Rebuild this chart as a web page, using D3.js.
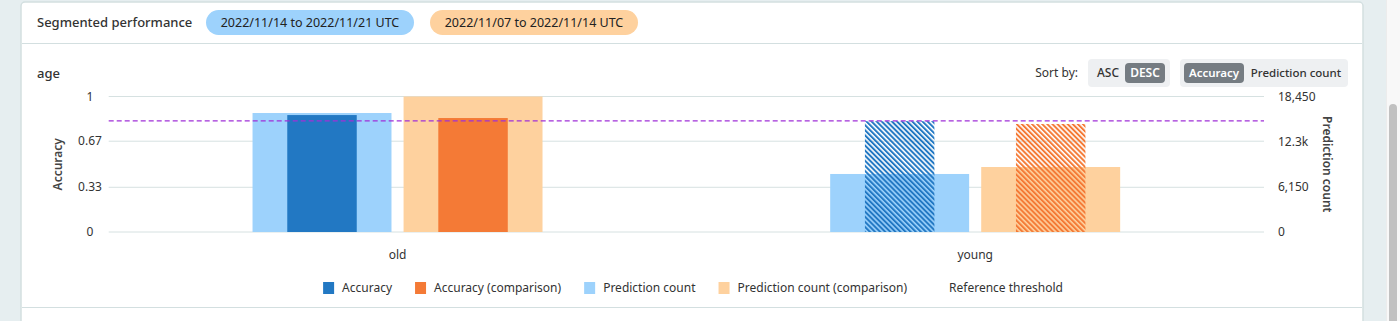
<!DOCTYPE html>
<html>
<head>
<meta charset="utf-8">
<script src="https://cdn.jsdelivr.net/npm/d3@7"></script>
<style>
  body { margin: 0; background: #e6eef0; overflow: hidden; }
  svg { display: block; font-family: "Noto Sans", "Open Sans", sans-serif; }
</style>
</head>
<body>
<div id="chart"></div>
<script>
// data
const categories = ["old", "young"];
const accuracy = [0.863, 0.818];
const accuracyComparison = [0.841, 0.797];
const predictionCount = [16200, 7900];
const predictionCountComparison = [18450, 8850];
const threshold = 0.82;

const accuracyTicks = [0, 0.33, 0.67, 1];
const countTicks = [0, 6150, 12300, 18450];
const countTickLabels = ["0", "6,150", "12.3k", "18,450"];

const periods = ["2022/11/14 to 2022/11/21 UTC", "2022/11/07 to 2022/11/14 UTC"];
const legendLabels = ["Accuracy", "Accuracy (comparison)", "Prediction count", "Prediction count (comparison)", "Reference threshold"];

const colors = {
  acc: "#2278c3",
  accCmp: "#f47a36",
  cnt: "#9dd2fc",
  cntCmp: "#fed19e",
  threshold: "#a030d8"
};
const legendColors = [colors.acc, colors.accCmp, colors.cnt, colors.cntCmp, "none"];

const W = 1400, H = 321;
const svg = d3.select("#chart").append("svg")
  .attr("width", W).attr("height", H);

// page background + card
svg.append("rect").attr("width", W).attr("height", H).attr("fill", "#e6eef0");
svg.append("rect")
  .attr("x", 21).attr("y", 2).attr("width", 1342).attr("height", 340)
  .attr("rx", 4)
  .attr("fill", "#fff").attr("stroke", "#d3dfe0").attr("stroke-width", 1.5);
svg.append("line").attr("x1", 22).attr("x2", 1362).attr("y1", 43.5).attr("y2", 43.5)
  .attr("stroke", "#d3dfe0");
svg.append("line").attr("x1", 22).attr("x2", 1362).attr("y1", 307.5).attr("y2", 307.5)
  .attr("stroke", "#d3dfe0");

// scrollbar
svg.append("rect").attr("x", 1386).attr("y", 0).attr("width", 14).attr("height", H).attr("fill", "#f8f8f8");
svg.append("line").attr("x1", 1386.5).attr("x2", 1386.5).attr("y1", 0).attr("y2", H).attr("stroke", "#ececec");
svg.append("rect").attr("x", 1389).attr("y", 104).attr("width", 8).attr("height", 260)
  .attr("rx", 4).attr("fill", "#c1c1c1");

// header
svg.append("text").attr("x", 37).attr("y", 27)
  .attr("font-size", 13).attr("font-weight", 500).attr("fill", "#333")
  .text("Segmented performance");

const pillColors = [colors.cnt, colors.cntCmp];
const pillX = [206, 430];
periods.forEach(function(p, i) {
  svg.append("rect").attr("x", pillX[i]).attr("y", 10).attr("width", 208).attr("height", 25)
    .attr("rx", 12.5).attr("fill", pillColors[i]);
  svg.append("text").attr("x", pillX[i] + 104).attr("y", 27)
    .attr("text-anchor", "middle").attr("font-size", 12.5).attr("fill", "#222")
    .text(p);
});

svg.append("text").attr("x", 37).attr("y", 78)
  .attr("font-size", 13).attr("font-weight", 500).attr("fill", "#333")
  .text("age");

// sort controls
svg.append("text").attr("x", 1078).attr("y", 77).attr("text-anchor", "end")
  .attr("font-size", 12).attr("fill", "#333").text("Sort by:");
svg.append("rect").attr("x", 1088).attr("y", 59).attr("width", 82).attr("height", 28)
  .attr("rx", 4).attr("fill", "#eef0f2");
svg.append("text").attr("x", 1108).attr("y", 77).attr("text-anchor", "middle")
  .attr("font-size", 12).attr("font-weight", 500).attr("fill", "#333").text("ASC");
svg.append("rect").attr("x", 1125).attr("y", 63).attr("width", 40).attr("height", 20)
  .attr("rx", 4).attr("fill", "#757c82");
svg.append("text").attr("x", 1145).attr("y", 77).attr("text-anchor", "middle")
  .attr("font-size", 12).attr("font-weight", 600).attr("fill", "#fff").text("DESC");

svg.append("rect").attr("x", 1180).attr("y", 59).attr("width", 168).attr("height", 28)
  .attr("rx", 4).attr("fill", "#eef0f2");
svg.append("rect").attr("x", 1184).attr("y", 63).attr("width", 60).attr("height", 20)
  .attr("rx", 4).attr("fill", "#757c82");
svg.append("text").attr("x", 1214).attr("y", 77).attr("text-anchor", "middle")
  .attr("font-size", 11.5).attr("font-weight", 600).attr("fill", "#fff").text("Accuracy");
svg.append("text").attr("x", 1296).attr("y", 77).attr("text-anchor", "middle")
  .attr("font-size", 11.5).attr("font-weight", 500).attr("fill", "#333").text("Prediction count");

// chart area
const plot = { left: 108.7, right: 1264, top: 96.5, bottom: 232 };

const x0 = d3.scaleBand().domain(categories).range([plot.left, plot.right]);
const groupWidth = x0.bandwidth() * 0.502;
const x1 = d3.scaleBand().domain(["current", "comparison"])
  .range([0, groupWidth]).paddingInner(0.08);

const yAcc = d3.scaleLinear().domain([0, 1]).range([plot.bottom, plot.top]);
const yCnt = d3.scaleLinear().domain([0, 18450]).range([plot.bottom, plot.top]);

// hatch patterns for bars under threshold
const defs = svg.append("defs");
[["hatch-acc", colors.acc], ["hatch-accCmp", colors.accCmp]].forEach(function(h) {
  const pat = defs.append("pattern")
    .attr("id", h[0]).attr("patternUnits", "userSpaceOnUse")
    .attr("width", 3.6).attr("height", 4)
    .attr("patternTransform", "rotate(-45)");
  pat.append("rect").attr("width", 2).attr("height", 4).attr("fill", h[1]);
});

// grid
svg.append("g").selectAll("line").data(accuracyTicks).join("line")
  .attr("x1", plot.left).attr("x2", plot.right)
  .attr("y1", function(d) { return yAcc(d); }).attr("y2", function(d) { return yAcc(d); })
  .attr("stroke", "#d6e1e1").attr("stroke-width", 1);

// left ticks (centered labels)
svg.append("g").selectAll("text").data(accuracyTicks).join("text")
  .attr("x", 90).attr("y", function(d) { return yAcc(d) + 4; })
  .attr("text-anchor", "middle").attr("font-size", 12).attr("fill", "#333")
  .text(function(d) { return d === 0 || d === 1 ? String(d) : d.toFixed(2); });

// right ticks
svg.append("g").selectAll("text").data(countTicks).join("text")
  .attr("x", 1278).attr("y", function(d) { return yCnt(d) + 4; })
  .attr("font-size", 12).attr("fill", "#333")
  .text(function(d, i) { return countTickLabels[i]; });

svg.append("text")
  .attr("transform", "translate(62," + ((plot.top + plot.bottom) / 2) + ") rotate(-90)")
  .attr("text-anchor", "middle").attr("font-size", 12).attr("font-weight", 600).attr("fill", "#444")
  .text("Accuracy");
svg.append("text")
  .attr("transform", "translate(1323," + ((plot.top + plot.bottom) / 2) + ") rotate(90)")
  .attr("text-anchor", "middle").attr("font-size", 12).attr("font-weight", 600).attr("fill", "#444")
  .text("Prediction count");

// bars
const rows = categories.map(function(c, i) {
  return {
    cat: c,
    bars: [
      { key: "current", count: predictionCount[i], acc: accuracy[i], cntColor: colors.cnt, accColor: colors.acc, hatch: "hatch-acc" },
      { key: "comparison", count: predictionCountComparison[i], acc: accuracyComparison[i], cntColor: colors.cntCmp, accColor: colors.accCmp, hatch: "hatch-accCmp" }
    ]
  };
});

const groups = svg.append("g").selectAll("g").data(rows).join("g")
  .attr("transform", function(d) {
    return "translate(" + (x0(d.cat) + (x0.bandwidth() - groupWidth) / 2) + ",0)";
  });

groups.selectAll("rect.cnt").data(function(d) { return d.bars; }).join("rect")
  .attr("class", "cnt")
  .attr("x", function(d) { return x1(d.key); })
  .attr("width", x1.bandwidth())
  .attr("y", function(d) { return yCnt(d.count); })
  .attr("height", function(d) { return plot.bottom - yCnt(d.count); })
  .attr("fill", function(d) { return d.cntColor; });

groups.selectAll("rect.acc").data(function(d) { return d.bars; }).join("rect")
  .attr("class", "acc")
  .attr("x", function(d) { return x1(d.key) + x1.bandwidth() / 4; })
  .attr("width", x1.bandwidth() / 2)
  .attr("y", function(d) { return yAcc(d.acc); })
  .attr("height", function(d) { return plot.bottom - yAcc(d.acc); })
  .attr("fill", function(d) { return d.acc < threshold ? "url(#" + d.hatch + ")" : d.accColor; });

// threshold line
svg.append("line")
  .attr("x1", plot.left).attr("x2", plot.right)
  .attr("y1", yAcc(threshold)).attr("y2", yAcc(threshold))
  .attr("stroke", colors.threshold).attr("stroke-width", 1.4)
  .attr("stroke-dasharray", "5,3");

// category labels
svg.append("g").selectAll("text").data(categories).join("text")
  .attr("x", function(d) { return x0(d) + x0.bandwidth() / 2; })
  .attr("y", 259).attr("text-anchor", "middle")
  .attr("font-size", 12).attr("fill", "#333")
  .text(function(d) { return d; });

// legend
const legend = svg.append("g");
let lx = 0;
legendLabels.forEach(function(label, i) {
  const item = legend.append("g").attr("transform", "translate(" + lx + ",0)");
  if (legendColors[i] !== "none") {
    item.append("rect").attr("x", 0).attr("y", 282).attr("width", 11).attr("height", 12)
      .attr("fill", legendColors[i]);
  }
  const t = item.append("text").attr("x", 19).attr("y", 292)
    .attr("font-size", 12).attr("fill", "#333").text(label);
  lx += 19 + t.node().getComputedTextLength() + 23;
});
const legendW = lx - 23;
legend.attr("transform", "translate(" + (693 - legendW / 2) + ",0)");
</script>
</body>
</html>
